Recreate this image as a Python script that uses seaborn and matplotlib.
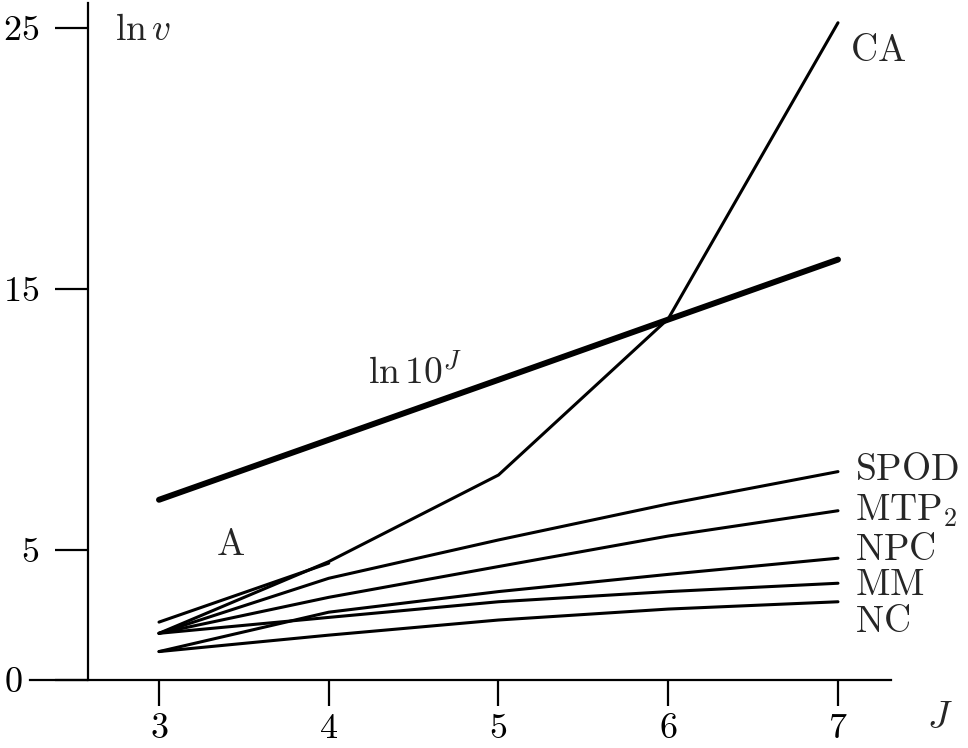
import numpy as np
import pandas as pd
import matplotlib
matplotlib.use("Agg")
import matplotlib.pyplot as plt
import matplotlib.transforms as mtransforms
import seaborn as sns

# ---- data ----
J_all = [3, 4, 5, 6, 7]
J_A = [3, 4]
ln10J = [6.91, 9.21, 11.51, 13.82, 16.12]
CA = [1.79, 4.54, 7.86, 13.85, 25.2]
A = [2.22, 4.48]
SPOD = [1.79, 3.90, 5.37, 6.75, 7.99]
MTP2 = [1.79, 3.17, 4.35, 5.52, 6.49]
NPC = [1.09, 2.60, 3.39, 4.05, 4.67]
MM = [1.79, 2.40, 3.00, 3.39, 3.71]
NC = [1.09, 1.72, 2.30, 2.72, 3.00]
x_ticks = [3, 4, 5, 6, 7]
y_ticks = [0, 5, 15, 25]

sns.set_theme(style="white")
plt.rcParams['font.family'] = ['serif']
plt.rcParams['font.serif'] = ['cmr10', 'DejaVu Serif']
plt.rcParams['mathtext.fontset'] = 'cm'
plt.rcParams['axes.formatter.use_mathtext'] = True

fig = plt.figure(figsize=(9.68, 7.48), dpi=100)
ax = fig.add_axes([30/968, 68/748, 860.6/968, 676.8/748])

thin = 2.2
for xs, ys in [(J_all, CA), (J_A, A), (J_all, SPOD), (J_all, MTP2),
               (J_all, NPC), (J_all, MM), (J_all, NC)]:
    sns.lineplot(x=xs, y=ys, ax=ax, color='black', linewidth=thin,
                 solid_joinstyle='miter')
sns.lineplot(x=J_all, y=ln10J, ax=ax, color='black', linewidth=4.3)

ax.set_xlim(2.24, 7.31)
ax.set_ylim(0, 25.95)
for s in ['top', 'right']:
    ax.spines[s].set_visible(False)
ax.spines['left'].set_position(('data', 2.58))
for s in ['left', 'bottom']:
    ax.spines[s].set_color('black')
    ax.spines[s].set_linewidth(1.6)

ax.set_xticks(x_ticks)
ax.set_yticks(y_ticks)
ax.set_xticklabels([f"${v}$" for v in x_ticks])
ax.set_yticklabels([f"${v}$" for v in y_ticks])
ax.tick_params(axis='x', direction='out', length=19, width=1.6, pad=5,
               labelsize=26, colors='black', bottom=True)
ax.tick_params(axis='y', direction='out', length=24, width=1.6, pad=11,
               labelsize=26, colors='black', left=True)

# shift the "0" label left of the extended x axis
zero_lbl = ax.get_yticklabels()[0]
zero_lbl.set_transform(zero_lbl.get_transform() +
                       mtransforms.ScaledTranslation(-16/100, 0, fig.dpi_scale_trans))

fs = 27
ax.text(2.74, 24.9, r'$\ln v$', fontsize=fs, va='center', ha='left')
ax.text(7.07, 24.1, r'$\mathrm{CA}$', fontsize=fs, va='center', ha='left')
ax.text(4.23, 11.8, r'$\ln 10^J$', fontsize=fs, va='center', ha='left')
ax.text(3.42, 5.18, r'$\mathrm{A}$', fontsize=fs, va='center', ha='center')
labels = [('SPOD', 8.05), ('MTP_2', 6.5), ('NPC', 4.98), ('MM', 3.64), ('NC', 2.22)]
for name, yv in labels:
    ax.text(7.1, yv, r'$\mathrm{' + name + '}$', fontsize=fs, va='center', ha='left')
ax.text(7.6, -1.46, r'$J$', fontsize=fs, va='center', ha='center', clip_on=False)

fig.savefig('out.png', dpi=100)
